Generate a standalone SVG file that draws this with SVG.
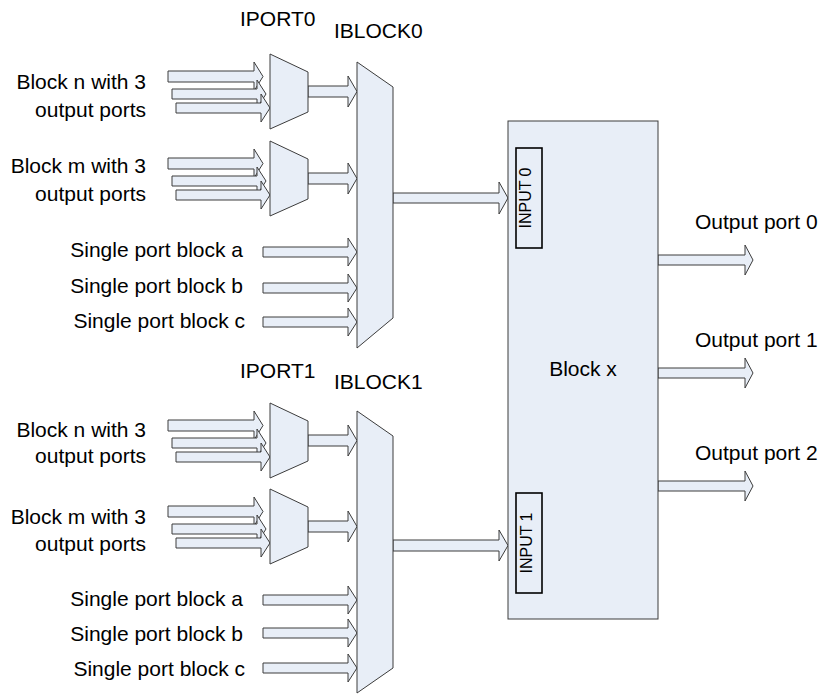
<svg xmlns="http://www.w3.org/2000/svg" width="818" height="694" viewBox="0 0 818 694">
<style>
.shape{fill:#e8eef7;stroke:#3c3c3c;stroke-width:1;stroke-linejoin:miter}
.arr{fill:#e8eef7;stroke:#3c3c3c;stroke-width:1;stroke-linejoin:miter}
.port{fill:#e8eef7;stroke:#000;stroke-width:1.6}
text{font-family:"Liberation Sans",Arial,sans-serif;font-size:21px;fill:#000}
.r{text-anchor:end}
.m{text-anchor:middle}
.small{font-size:16px}
</style>
<rect width="818" height="694" fill="#fff"/>

<g id="src-n0"><text class="r" x="146" y="89">Block n with 3</text><text class="r" x="146" y="117">output ports</text></g>
<g id="src-m0"><text class="r" x="146" y="173">Block m with 3</text><text class="r" x="146" y="201">output ports</text></g>
<g id="src-a0"><text class="r" x="243" y="257">Single port block a</text></g>
<g id="src-b0"><text class="r" x="243" y="293">Single port block b</text></g>
<g id="src-c0"><text class="r" x="245" y="328">Single port block c</text></g>
<g id="src-n1"><text class="r" x="146" y="437">Block n with 3</text><text class="r" x="146" y="463">output ports</text></g>
<g id="src-m1"><text class="r" x="146" y="524">Block m with 3</text><text class="r" x="146" y="551">output ports</text></g>
<g id="src-a1"><text class="r" x="243" y="606">Single port block a</text></g>
<g id="src-b1"><text class="r" x="243" y="641">Single port block b</text></g>
<g id="src-c1"><text class="r" x="245" y="676">Single port block c</text></g>

<g id="connectors">
<polygon class="arr" points="168,71 254,71 254,62 263,76.5 254,91 254,82 168,82"/>
<polygon class="arr" points="172,89 257,89 257,80 266,94 257,108 257,99 172,99"/>
<polygon class="arr" points="176,103 261,103 261,94 270,108 261,122 261,113 176,113"/>
<polygon class="arr" points="308,86 348,86 348,76 357,91.5 348,107 348,97 308,97"/>
<polygon class="arr" points="168,158 254,158 254,149 263,163.5 254,178 254,169 168,169"/>
<polygon class="arr" points="172,176 257,176 257,167 266,181 257,195 257,186 172,186"/>
<polygon class="arr" points="176,190 261,190 261,181 270,195 261,209 261,200 176,200"/>
<polygon class="arr" points="308,173 348,173 348,163 357,178.5 348,194 348,184 308,184"/>
<polygon class="arr" points="263,247 348,247 348,238 357,252 348,266 348,257 263,257"/>
<polygon class="arr" points="263,283 348,283 348,274 357,288 348,302 348,293 263,293"/>
<polygon class="arr" points="263,317 348,317 348,308 357,322 348,336 348,327 263,327"/>
<polygon class="arr" points="168,420 254,420 254,411 263,425.5 254,440 254,431 168,431"/>
<polygon class="arr" points="172,438 257,438 257,429 266,443 257,457 257,448 172,448"/>
<polygon class="arr" points="176,452 261,452 261,443 270,457 261,471 261,462 176,462"/>
<polygon class="arr" points="308,435 348,435 348,425 357,440.5 348,456 348,446 308,446"/>
<polygon class="arr" points="168,506 254,506 254,497 263,511.5 254,526 254,517 168,517"/>
<polygon class="arr" points="172,524 257,524 257,515 266,529 257,543 257,534 172,534"/>
<polygon class="arr" points="176,538 261,538 261,529 270,543 261,557 261,548 176,548"/>
<polygon class="arr" points="308,521 348,521 348,511 357,526.5 348,542 348,532 308,532"/>
<polygon class="arr" points="263,595 348,595 348,586 357,600 348,614 348,605 263,605"/>
<polygon class="arr" points="263,628 348,628 348,619 357,633 348,647 348,638 263,638"/>
<polygon class="arr" points="263,663 348,663 348,654 357,668 348,682 348,673 263,673"/>
<polygon class="arr" points="393,193 499,193 499,182 508,198 499,214 499,203 393,203"/>
<polygon class="arr" points="393,540 499,540 499,530 508,545.5 499,561 499,551 393,551"/>
<polygon class="arr" points="658,255 745,255 745,245 753,260 745,275 745,265 658,265"/>
<polygon class="arr" points="658,368 745,368 745,358 753,373 745,388 745,378 658,378"/>
<polygon class="arr" points="658,481 745,481 745,471 753,486 745,501 745,491 658,491"/>
</g>

<g id="iport0-n"><polygon class="shape" points="270,54 308,72 308,112 270,129"/></g>
<g id="iport0-m"><polygon class="shape" points="270,141 308,159 308,199 270,216"/></g>
<g id="iport0-label"><text x="240" y="26">IPORT0</text></g>
<g id="iblock0"><polygon class="shape" points="357,62 393,87 393,318 357,348"/><text x="334" y="38">IBLOCK0</text></g>

<g id="iport1-n"><polygon class="shape" points="270,403 308,421 308,461 270,478"/></g>
<g id="iport1-m"><polygon class="shape" points="270,489 308,507 308,547 270,564"/></g>
<g id="iport1-label"><text x="240" y="378">IPORT1</text></g>
<g id="iblock1"><polygon class="shape" points="357,411 393,436 393,668 357,693"/><text x="334" y="389">IBLOCK1</text></g>

<g id="blockx">
<rect class="shape" x="508" y="121" width="150" height="498"/>
<text class="m" x="583" y="376">Block x</text>
</g>
<g id="input0">
<rect class="port" x="516" y="148" width="26" height="100"/>
<text class="small m" transform="translate(531,198) rotate(-90)">INPUT 0</text>
</g>
<g id="input1">
<rect class="port" x="516" y="493" width="26" height="100"/>
<text class="small m" transform="translate(532,543) rotate(-90)">INPUT 1</text>
</g>

<g id="out0"><text x="695" y="229">Output port 0</text></g>
<g id="out1"><text x="695" y="347">Output port 1</text></g>
<g id="out2"><text x="695" y="460">Output port 2</text></g>
</svg>
